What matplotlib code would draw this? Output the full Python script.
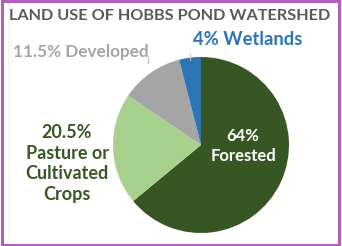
import matplotlib.pyplot as plt
from matplotlib.patches import Rectangle

labels = ['Forested', 'Pasture or Cultivated Crops', 'Developed', 'Wetlands']
shares = [64, 20.5, 11.5, 4]
colors = ['#375623', '#a9d18e', '#a5a5a5', '#2e75b6']

plt.rcParams['font.family'] = ['Lato', 'DejaVu Sans']

fig = plt.figure(figsize=(3.42, 2.46), dpi=100)
ax = fig.add_axes([(201 - 88) / 342, 1 - (145 + 88) / 246, 176 / 342, 176 / 246])
ax.pie(shares, colors=colors, startangle=90, counterclock=False,
       wedgeprops=dict(linewidth=0))
ax.set_aspect('equal')
ax.set_xlim(-1, 1)
ax.set_ylim(-1, 1)

# frame
fig.patches.append(Rectangle((0.006, 0.006), 0.985, 0.988, transform=fig.transFigure,
                             fill=False, edgecolor='#b060bb', linewidth=2.2))

fig.text(0.497, 0.933, 'LAND USE OF HOBBS POND WATERSHED', ha='center', va='center',
         fontsize=11.7, fontweight='bold', color='#595959')
fig.text(0.237, 0.787, '11.5% Developed', ha='center', va='center',
         fontsize=12.3, fontweight='bold', color='#a5a5a5')
fig.text(0.725, 0.838, '4% Wetlands', ha='center', va='center',
         fontsize=13.2, fontweight='bold', color='#2e75b6')
fig.text(0.196, 0.335, '20.5%\nPasture or\nCultivated\nCrops', ha='center', va='center',
         fontsize=13, fontweight='bold', color='#385723', linespacing=1.25)
fig.text(0.711, 0.405, '64%\nForested', ha='center', va='center',
         fontsize=12, fontweight='bold', color='white', linespacing=1.3)

# leader lines
fig.add_artist(plt.Line2D([148 / 342, 148 / 342], [1 - 57 / 246, 1 - 63 / 246],
                          color='#bfbfbf', linewidth=0.8))
fig.add_artist(plt.Line2D([190 / 342, 190 / 342], [1 - 54 / 246, 1 - 60 / 246],
                          color='#bfbfbf', linewidth=0.8))

fig.savefig('out.png', dpi=100)
